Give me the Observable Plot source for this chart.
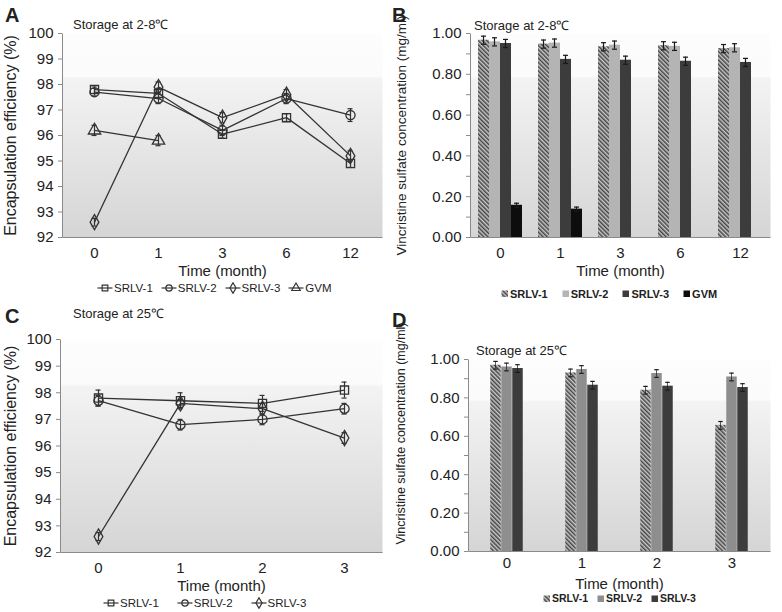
<!DOCTYPE html>
<html><head><meta charset="utf-8">
<script src="https://cdn.jsdelivr.net/npm/d3@7"></script>
<script src="https://cdn.jsdelivr.net/npm/@observablehq/plot@0.6"></script>
<style>
body{margin:0;background:#fff;font-family:"Liberation Sans",Arial,sans-serif;color:#222}
#root{position:relative;width:782px;height:612px;overflow:hidden;background:#fff}
.letter{position:absolute;font-weight:bold;font-size:20px;line-height:20px}
.title{position:absolute;font-size:13px;line-height:13px;white-space:nowrap}
.legend{position:absolute;display:flex;align-items:center;font-size:11.5px;line-height:12px;white-space:nowrap}
.legend .item{display:flex;align-items:center}
.legend svg{display:block;margin-right:1px}
.blegend{font-size:11px;font-weight:bold}
.small{font-size:10.5px;line-height:11px}
svg [aria-label="y-axis label"]{font-size:16px}
svg [aria-label="x-axis label"]{font-size:15px}
svg.bars [aria-label="y-axis label"]{font-size:13.5px}
svg.panelD [aria-label="y-axis label"]{font-size:12.5px;translate:0 -22px}
</style>
</head><body>
<div id="root"></div>
<script>
// ---------- Panel A: encapsulation efficiency, 2-8 °C ----------
const monthsA = ["0","1","3","6","12"];
const eeA_SRLV1 = [97.8, 97.65, 96.05, 96.7, 94.9];
const eeA_SRLV2 = [97.7, 97.45, 96.2, 97.45, 96.8];
const eeA_SRLV3 = [92.6, 97.9, 96.7, 97.6, 95.2];
const eeA_GVM   = [96.2, 95.8, null, null, null];
const sdA_SRLV1 = [0.15, 0.2, 0.15, 0.15, 0.15];
const sdA_SRLV2 = [0.15, 0.2, 0.2, 0.2, 0.25];
const sdA_SRLV3 = [0.15, 0.2, 0.2, 0.2, 0.2];
const sdA_GVM   = [0.2, 0.2, null, null, null];

// ---------- Panel B: vincristine concentration, 2-8 °C ----------
const monthsB = ["0","1","3","6","12"];
const vcB_SRLV1 = [0.967, 0.948, 0.935, 0.940, 0.926];
const vcB_SRLV2 = [0.959, 0.953, 0.943, 0.937, 0.930];
const vcB_SRLV3 = [0.951, 0.873, 0.869, 0.864, 0.858];
const vcB_GVM   = [0.158, 0.139, null, null, null];
const sdB_SRLV1 = [0.02, 0.02, 0.02, 0.02, 0.02];
const sdB_SRLV2 = [0.02, 0.02, 0.02, 0.02, 0.02];
const sdB_SRLV3 = [0.02, 0.02, 0.02, 0.02, 0.02];
const sdB_GVM   = [0.01, 0.01, null, null, null];

// ---------- Panel C: encapsulation efficiency, 25 °C ----------
const monthsC = ["0","1","2","3"];
const eeC_SRLV1 = [97.8, 97.7, 97.6, 98.1];
const eeC_SRLV2 = [97.7, 96.8, 97.0, 97.4];
const eeC_SRLV3 = [92.6, 97.6, 97.4, 96.3];
const sdC_SRLV1 = [0.3, 0.3, 0.3, 0.3];
const sdC_SRLV2 = [0.2, 0.2, 0.2, 0.2];
const sdC_SRLV3 = [0.15, 0.15, 0.2, 0.2];

// ---------- Panel D: vincristine concentration, 25 °C ----------
const monthsD = ["0","1","2","3"];
const vcD_SRLV1 = [0.970, 0.930, 0.840, 0.657];
const vcD_SRLV2 = [0.961, 0.948, 0.927, 0.909];
const vcD_SRLV3 = [0.953, 0.866, 0.861, 0.854];
const sdD_SRLV1 = [0.02, 0.02, 0.02, 0.02];
const sdD_SRLV2 = [0.02, 0.02, 0.02, 0.02];
const sdD_SRLV3 = [0.02, 0.02, 0.02, 0.02];

const seriesNames = ["SRLV-1","SRLV-2","SRLV-3","GVM"];
const seriesSymbols = ["square","circle","diamond","triangle"];

const FONT = '"Liberation Sans", Arial, sans-serif';
const root = document.getElementById("root");

function addGradient(svg, id){
  const defs = d3.select(svg).insert("defs", ":first-child");
  const g = defs.append("linearGradient").attr("id", id).attr("x1",0).attr("y1",0).attr("x2",0).attr("y2",1);
  [[0,"#fdfdfd"],[0.21,"#fbfbfb"],[0.22,"#f3f3f3"],[1,"#d5d5d5"]].forEach(([o,c]) =>
    g.append("stop").attr("offset", o).attr("stop-color", c));
  return defs;
}
function addHatch(defs, id){
  const p = defs.append("pattern").attr("id", id).attr("patternUnits","userSpaceOnUse")
    .attr("width",3).attr("height",3).attr("patternTransform","rotate(-45)");
  p.append("rect").attr("width",3).attr("height",3).attr("fill","#c8c8c8");
  p.append("line").attr("x1",0.75).attr("x2",0.75).attr("y1",0).attr("y2",3).attr("stroke","#444").attr("stroke-width",1.5);
}

function place(el, left, top){ el.style.position="absolute"; el.style.left=left+"px"; el.style.top=top+"px"; root.appendChild(el); return el; }
function textDiv(cls, txt, left, top){ const d=document.createElement("div"); d.className=cls; d.textContent=txt; return place(d,left,top); }

function linePanel(cfg){
  const {left, top, width, height, ml, mr, mt, mb, months, padding, yDomain, series, gradId} = cfg;
  const rows = [];
  series.forEach(s => s.values.forEach((v,i) => { if (v != null) rows.push({month: months[i], v, e: s.sd[i], name: s.name}); }));
  const w = width - ml - mr, h = height - mt - mb;
  const svg = Plot.plot({
    width, height, marginLeft: ml, marginRight: mr, marginTop: mt, marginBottom: mb,
    style: {fontFamily: FONT, fontSize: "15px", color: "#222", background: "transparent", overflow: "visible"},
    x: {type: "point", domain: months, padding},
    y: {domain: yDomain},
    symbol: {domain: seriesNames, range: seriesSymbols},
    marks: [
      Plot.frame({fill: `url(#${gradId})`, stroke: "#8a8a8a", strokeDasharray: `0,${w+h},${w+h}`}),
      Plot.axisY({ticks: d3.range(yDomain[0], yDomain[1] + 0.5, 1), tickSize: 4, tickPadding: 5, stroke: "#8a8a8a", fill: "#222",
        label: "Encapsulation efficiency (%)", labelAnchor: "center", labelArrow: "none", labelOffset: ml - 4}),
      Plot.axisX({tickSize: 0, tickPadding: 10, fill: "#222", label: "Time (month)", labelAnchor: "center", labelArrow: "none", labelOffset: 38}),
      Plot.line(rows, {x: "month", y: "v", z: "name", stroke: "#333", strokeWidth: 1.3}),
      Plot.ruleX(rows, {x: "month", y1: d => d.v - d.e, y2: d => d.v + d.e, stroke: "#333", strokeWidth: 1.2}),
      Plot.ruleY(rows, {x1: "month", x2: "month", y: d => d.v - d.e, insetLeft: -2.5, insetRight: -2.5, stroke: "#333", strokeWidth: 1.2}),
      Plot.ruleY(rows, {x1: "month", x2: "month", y: d => d.v + d.e, insetLeft: -2.5, insetRight: -2.5, stroke: "#333", strokeWidth: 1.2}),
      Plot.dot(rows, {x: "month", y: "v", symbol: "name", r: 4.6, stroke: "#333", strokeWidth: 1.3, fill: "none"})
    ]
  });
  addGradient(svg, gradId);
  place(svg, left, top);
}

function barPanel(cfg){
  const {left, top, width, height, ml, mr, mt, mb, months, series, gradId, hatchId, cls, xLabelOffset, xTickPadding} = cfg;
  const w = width - ml - mr, h = height - mt - mb;
  const bw = w / months.length, barW = 11;
  const off = (bw - barW * series.length) / 2;
  const marks = [
    Plot.frame({fill: `url(#${gradId})`, stroke: "#8a8a8a", strokeDasharray: `0,${w+h},${w+h}`}),
    Plot.axisY({ticks: d3.range(0, 1.05, 0.1), tickFormat: d => (Math.round(d*10) % 2 === 0 ? d.toFixed(2) : ""),
      tickSize: 4, tickPadding: 5, stroke: "#8a8a8a", fill: "#222",
      label: "Vincristine sulfate concentration (mg/ml)", labelAnchor: "center", labelArrow: "none", labelOffset: ml - 6}),
    Plot.axisX({tickSize: 0, tickPadding: xTickPadding, fill: "#222", label: "Time (month)", labelAnchor: "center", labelArrow: "none", labelOffset: xLabelOffset})
  ];
  series.forEach((s, k) => {
    const rows = months.map((m,i) => ({month: m, v: s.values[i], e: s.sd[i]})).filter(d => d.v != null);
    const l = off + k * barW, r = bw - l - barW, c = l + barW / 2;
    marks.push(
      Plot.barY(rows, {x: "month", y: "v", fill: s.fill, insetLeft: l, insetRight: r}),
      Plot.barY(rows, {x: "month", y1: d => d.v - d.e, y2: d => d.v + d.e, fill: "#1a1a1a", insetLeft: c - 0.6, insetRight: bw - c - 0.6}),
      Plot.tickY(rows, {x: "month", y: d => d.v - d.e, insetLeft: c - 2.5, insetRight: bw - c - 2.5, stroke: "#1a1a1a", strokeWidth: 1.2}),
      Plot.tickY(rows, {x: "month", y: d => d.v + d.e, insetLeft: c - 2.5, insetRight: bw - c - 2.5, stroke: "#1a1a1a", strokeWidth: 1.2})
    );
  });
  const svg = Plot.plot({
    width, height, marginLeft: ml, marginRight: mr, marginTop: mt, marginBottom: mb,
    style: {fontFamily: FONT, fontSize: "15px", color: "#222", background: "transparent", overflow: "visible"},
    x: {type: "band", domain: months, padding: 0},
    y: {domain: [0, 1]},
    marks
  });
  svg.classList.add("bars");
  if (cls) svg.classList.add(cls);
  const defs = addGradient(svg, gradId);
  addHatch(defs, hatchId);
  place(svg, left, top);
}

function lineLegend(names, left, top, gap){
  const d = document.createElement("div"); d.className = "legend"; d.style.gap = gap + "px";
  names.forEach(n => {
    const it = document.createElement("div"); it.className = "item";
    const sym = seriesSymbols[seriesNames.indexOf(n)];
    const symFn = {square: d3.symbolSquare, circle: d3.symbolCircle, diamond: d3.symbolDiamond, triangle: d3.symbolTriangle}[sym];
    const p = d3.symbol(symFn, 3.2*3.2*Math.PI)();
    it.innerHTML = `<svg width="16" height="12" viewBox="-8 -6 16 12"><line x1="-7.5" x2="7.5" y1="0" y2="0" stroke="#333" stroke-width="1.2"/><path d="${p}" fill="none" stroke="#333" stroke-width="1.2"/></svg><span>${n}</span>`;
    d.appendChild(it);
  });
  return place(d, left, top);
}
function barLegend(items, left, top, gap, extra){
  const d = document.createElement("div"); d.className = "legend blegend" + (extra ? " " + extra : ""); d.style.gap = gap + "px";
  items.forEach(([n, fill]) => {
    const it = document.createElement("div"); it.className = "item";
    it.innerHTML = `<svg width="8" height="8"><rect x="0.5" y="0.5" width="6.5" height="6.5" fill="${fill}"/></svg><span>${n}</span>`;
    d.appendChild(it);
  });
  return place(d, left, top);
}

// Panel A
linePanel({left: 0, top: 0, width: 390, height: 280, ml: 62, mr: 8, mt: 33, mb: 43, months: monthsA, padding: 0.5,
  yDomain: [92, 100], gradId: "gradA",
  series: [
    {name: "SRLV-1", values: eeA_SRLV1, sd: sdA_SRLV1},
    {name: "SRLV-2", values: eeA_SRLV2, sd: sdA_SRLV2},
    {name: "SRLV-3", values: eeA_SRLV3, sd: sdA_SRLV3},
    {name: "GVM", values: eeA_GVM, sd: sdA_GVM}
  ]});
// Panel B
barPanel({left: 390, top: 0, width: 392, height: 280, ml: 80, mr: 12, mt: 33, mb: 43, months: monthsB,
  gradId: "gradB", hatchId: "hatchB", cls: "panelB", xLabelOffset: 38, xTickPadding: 10,
  series: [
    {name: "SRLV-1", values: vcB_SRLV1, sd: sdB_SRLV1, fill: "url(#hatchB)"},
    {name: "SRLV-2", values: vcB_SRLV2, sd: sdB_SRLV2, fill: "#b4b4b4"},
    {name: "SRLV-3", values: vcB_SRLV3, sd: sdB_SRLV3, fill: "#3c3c3c"},
    {name: "GVM", values: vcB_GVM, sd: sdB_GVM, fill: "#0d0d0d"}
  ]});
// Panel C
linePanel({left: 0, top: 300, width: 390, height: 292, ml: 60, mr: 8, mt: 39, mb: 40, months: monthsC, padding: 0.45,
  yDomain: [92, 100], gradId: "gradC",
  series: [
    {name: "SRLV-1", values: eeC_SRLV1, sd: sdC_SRLV1},
    {name: "SRLV-2", values: eeC_SRLV2, sd: sdC_SRLV2},
    {name: "SRLV-3", values: eeC_SRLV3, sd: sdC_SRLV3}
  ]});
// Panel D
barPanel({left: 390, top: 300, width: 392, height: 292, ml: 78, mr: 12, mt: 59, mb: 41, months: monthsD,
  gradId: "gradD", hatchId: "hatchD", cls: "panelD", xLabelOffset: 37, xTickPadding: 6,
  series: [
    {name: "SRLV-1", values: vcD_SRLV1, sd: sdD_SRLV1, fill: "url(#hatchD)"},
    {name: "SRLV-2", values: vcD_SRLV2, sd: sdD_SRLV2, fill: "#8e8e8e"},
    {name: "SRLV-3", values: vcD_SRLV3, sd: sdD_SRLV3, fill: "#3c3c3c"}
  ]});

// Panel letters and titles
textDiv("letter", "A", 5, 5);
textDiv("letter", "B", 392, 5);
textDiv("letter", "C", 5, 306);
textDiv("letter", "D", 392, 310);
textDiv("title", "Storage at 2-8℃", 73, 18);
textDiv("title", "Storage at 2-8℃", 474, 19);
textDiv("title", "Storage at 25℃", 73, 307);
textDiv("title", "Storage at 25℃", 476, 344);

// Legends
lineLegend(["SRLV-1","SRLV-2","SRLV-3","GVM"], 97, 282, 8);
barLegend([["SRLV-1","url(#hatchB)"],["SRLV-2","#b4b4b4"],["SRLV-3","#3c3c3c"],["GVM","#0d0d0d"]], 501, 288, 14);
lineLegend(["SRLV-1","SRLV-2","SRLV-3"], 103, 597, 18);
barLegend([["SRLV-1","url(#hatchD)"],["SRLV-2","#8e8e8e"],["SRLV-3","#3c3c3c"]], 543, 593, 9, "small");
</script>
</body></html>
